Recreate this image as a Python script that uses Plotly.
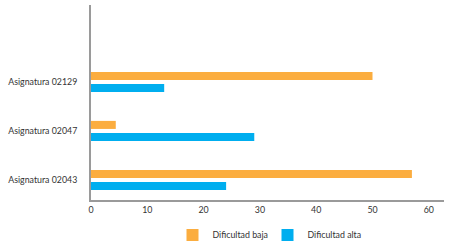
import plotly.graph_objects as go

categories = ["Asignatura 02043", "Asignatura 02047", "Asignatura 02129"]
baja = [57, 4.4, 50]
alta = [24, 29, 13]
x_ticks = [0, 10, 20, 30, 40, 50, 60]

orange = "#FBAD3F"
blue = "#00AEEF"
font = dict(family="Lato, Liberation Sans, Arial, sans-serif", size=8.8, color="#333333")

fig = go.Figure()
fig.add_trace(go.Bar(y=categories, x=alta, orientation="h", name="Dificultad alta",
                     marker=dict(color=blue, line=dict(width=0))))
fig.add_trace(go.Bar(y=categories, x=baja, orientation="h", name="Dificultad baja",
                     marker=dict(color=orange, line=dict(width=0))))

fig.update_layout(
    width=463, height=247,
    margin=dict(l=91, r=19, t=5, b=47, autoexpand=False),
    paper_bgcolor="white", plot_bgcolor="white",
    barmode="group", bargap=0.51, bargroupgap=0.33,
    font=font,
    showlegend=True,
    legend=dict(orientation="h", x=0.5, xanchor="center", y=-0.105, yanchor="top",
                traceorder="reversed", font=font, itemwidth=30,
                entrywidth=50, entrywidthmode="pixels",
                itemsizing="constant"),
    xaxis=dict(range=[0, 62.7], tickvals=x_ticks, showgrid=False, zeroline=False,
               showline=True, linecolor="#9a9a9a", linewidth=2,
               ticks="", tickfont=font, automargin=False),
    yaxis=dict(type="category", categoryorder="array", categoryarray=categories,
               range=[-0.41, 3.57], showgrid=False, zeroline=False,
               showline=True, linecolor="#9a9a9a", linewidth=2,
               ticks="", ticklabelstandoff=10, tickfont=font, automargin=False),
)

fig.write_html("out.html", config={"displayModeBar": False},
               post_script="document.body.style.margin='0';")
